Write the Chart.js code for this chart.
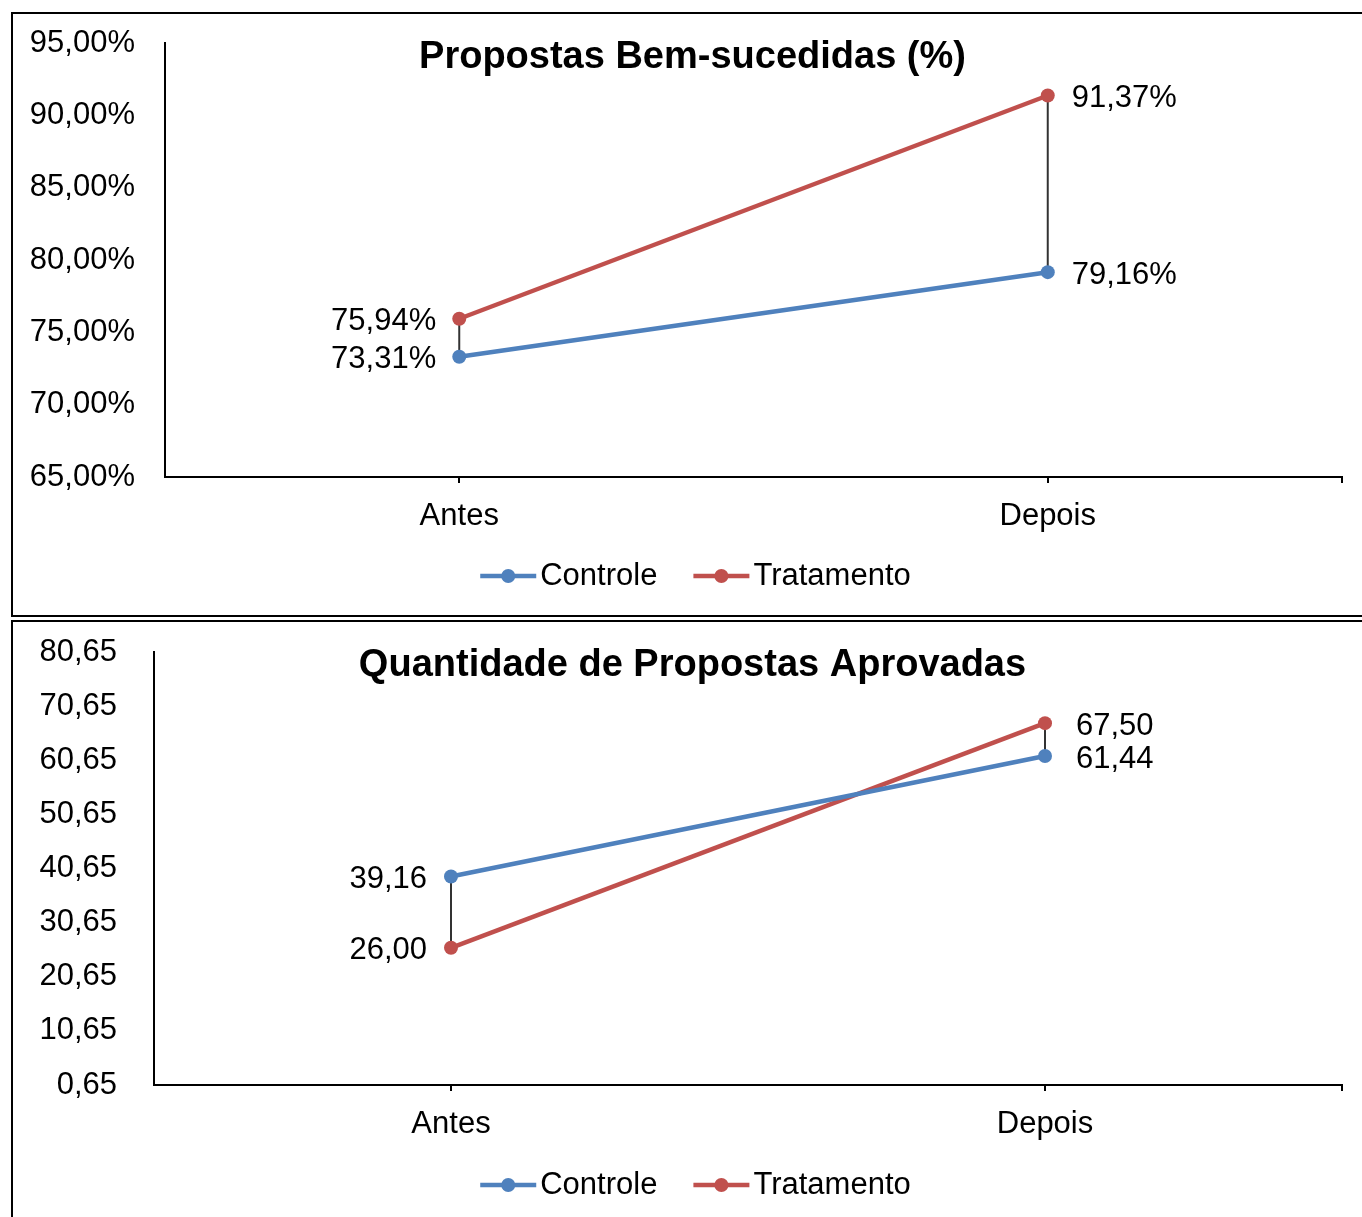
<!DOCTYPE html>
<html lang="pt">
<head>
<meta charset="utf-8">
<title>Propostas Bem-sucedidas</title>
<script src="https://cdn.jsdelivr.net/npm/chart.js@4.4.1/dist/chart.umd.min.js"></script>
<style>
  html, body { margin: 0; padding: 0; background: #fff; overflow: hidden; }
  .box { position: absolute; left: 11px; border-left: 2px solid #000; border-top: 2px solid #000; }
  #box1 { top: 12px; border-bottom: 2px solid #000; }
  #box2 { top: 620px; }
  canvas { display: block; }
</style>
</head>
<body>
<div class="box" id="box1"><canvas id="chart1" width="1349" height="601"></canvas></div>
<div class="box" id="box2"><canvas id="chart2" width="1349" height="595"></canvas></div>
<script>
// Data
const categories = ['Antes', 'Depois'];
const seriesNames = ['Controle', 'Tratamento'];

const taxaControle = [73.31, 79.16];
const taxaTratamento = [75.94, 91.37];
const taxaTicks = [65, 70, 75, 80, 85, 90, 95];

const qtdControle = [39.16, 61.44];
const qtdTratamento = [26.00, 67.50];
const qtdTicks = [0.65, 10.65, 20.65, 30.65, 40.65, 50.65, 60.65, 70.65, 80.65];

const BLUE = '#4F81BD';
const RED = '#C0504D';
const FONT = '"Liberation Sans", Arial, sans-serif';

Chart.defaults.font.family = FONT;
Chart.defaults.color = '#000';

// pt-BR decimal comma
function fmt(v) {
  return v.toFixed(2).replace('.', ',');
}

// title, high-low lines, value labels and the legend, drawn Excel style
const excelExtras = {
  id: 'excelExtras',
  beforeDatasetsDraw(chart) {
    const ctx = chart.ctx;
    const a = chart.getDatasetMeta(0).data;
    const b = chart.getDatasetMeta(1).data;
    ctx.save();
    ctx.strokeStyle = '#333';
    ctx.lineWidth = 2;
    a.forEach((p, i) => {
      ctx.beginPath();
      ctx.moveTo(p.x, p.y);
      ctx.lineTo(b[i].x, b[i].y);
      ctx.stroke();
    });
    ctx.restore();
  },
  afterDatasetsDraw(chart, args, opts) {
    const ctx = chart.ctx;
    const area = chart.chartArea;
    ctx.save();

    // extra tick at the right end of the category axis
    ctx.strokeStyle = '#000';
    ctx.lineWidth = 2;
    ctx.beginPath();
    ctx.moveTo(area.right, area.bottom);
    ctx.lineTo(area.right, area.bottom + 6);
    ctx.stroke();

    // value labels
    ctx.fillStyle = '#000';
    ctx.font = '31px ' + FONT;
    ctx.textBaseline = 'middle';
    chart.data.datasets.forEach((ds, di) => {
      chart.getDatasetMeta(di).data.forEach((p, i) => {
        const txt = fmt(ds.data[i]) + opts.suffix;
        if (i === 0) {
          ctx.textAlign = 'right';
          ctx.fillText(txt, p.x - opts.labelLeft, p.y + 3);
        } else {
          ctx.textAlign = 'left';
          ctx.fillText(txt, p.x + opts.labelRight, p.y + 3);
        }
      });
    });

    // title
    ctx.font = 'bold 38px ' + FONT;
    ctx.textAlign = 'center';
    ctx.fillText(opts.title, chart.width / 2 + 5, area.top + opts.titleY);

    // legend
    ctx.font = '31px ' + FONT;
    ctx.textAlign = 'left';
    const sw = 56, gapT = 4, gapI = 36;
    const widths = chart.data.datasets.map(d => ctx.measureText(d.label).width);
    const total = widths.reduce((s, w) => s + sw + gapT + w, 0) + gapI * (widths.length - 1);
    let x = chart.width / 2 + 8 - total / 2;
    const y = area.bottom + opts.legendY;
    chart.data.datasets.forEach((d, i) => {
      ctx.strokeStyle = d.borderColor;
      ctx.lineWidth = 4.5;
      ctx.beginPath();
      ctx.moveTo(x, y);
      ctx.lineTo(x + sw, y);
      ctx.stroke();
      ctx.fillStyle = d.borderColor;
      ctx.beginPath();
      ctx.arc(x + sw / 2, y, 7, 0, Math.PI * 2);
      ctx.fill();
      ctx.fillStyle = '#000';
      ctx.fillText(d.label, x + sw + gapT, y);
      x += sw + gapT + widths[i] + gapI;
    });
    ctx.restore();
  }
};

function makeChart(id, cfg) {
  return new Chart(document.getElementById(id), {
    type: 'line',
    data: {
      labels: categories,
      datasets: [
        { label: seriesNames[0], data: cfg.controle, borderColor: BLUE, backgroundColor: BLUE },
        { label: seriesNames[1], data: cfg.tratamento, borderColor: RED, backgroundColor: RED }
      ]
    },
    options: {
      responsive: false,
      animation: false,
      layout: { padding: { top: cfg.padTop, right: 20, bottom: cfg.padBottom, left: 0 } },
      elements: {
        line: { borderWidth: 4.5, tension: 0 },
        point: { radius: 7, hoverRadius: 7, borderWidth: 0 }
      },
      scales: {
        x: {
          offset: true,
          grid: { display: true, drawOnChartArea: false, drawTicks: true, tickLength: 6, color: '#000', lineWidth: 2, offset: false },
          border: { display: true, color: '#000', width: 2 },
          ticks: { color: '#000', font: { size: 31 }, padding: 15 },
          afterFit: s => { s.height = 55; }
        },
        y: {
          min: cfg.ticks[0],
          max: cfg.ticks[cfg.ticks.length - 1],
          // hidden tick marks, their length is only used as the label gap
          grid: { display: false, drawTicks: true, tickLength: cfg.tickGap },
          border: { display: true, color: '#000', width: 2 },
          ticks: { color: '#000', font: { size: 31 }, padding: 0, callback: v => fmt(v) + cfg.suffix },
          afterBuildTicks: s => { s.ticks = cfg.ticks.map(v => ({ value: v })); },
          afterFit: s => { s.width = cfg.axisWidth; }
        }
      },
      plugins: {
        legend: { display: false },
        tooltip: { enabled: false },
        excelExtras: {
          title: cfg.title,
          suffix: cfg.suffix,
          labelLeft: cfg.labelLeft,
          labelRight: cfg.labelRight,
          titleY: cfg.titleY,
          legendY: cfg.legendY
        }
      }
    },
    plugins: [excelExtras]
  });
}

makeChart('chart1', {
  title: 'Propostas Bem-sucedidas (%)',
  controle: taxaControle,
  tratamento: taxaTratamento,
  ticks: taxaTicks,
  suffix: '%',
  padTop: 29,
  padBottom: 83,
  tickGap: 30,
  axisWidth: 152,
  labelLeft: 23,
  labelRight: 24,
  titleY: 15,
  legendY: 99
});

makeChart('chart2', {
  title: 'Quantidade de Propostas Aprovadas',
  controle: qtdControle,
  tratamento: qtdTratamento,
  ticks: qtdTicks,
  suffix: '',
  padTop: 30,
  padBottom: 77,
  tickGap: 37,
  axisWidth: 141,
  labelLeft: 24,
  labelRight: 31,
  titleY: 14,
  legendY: 100
});
</script>
</body>
</html>
